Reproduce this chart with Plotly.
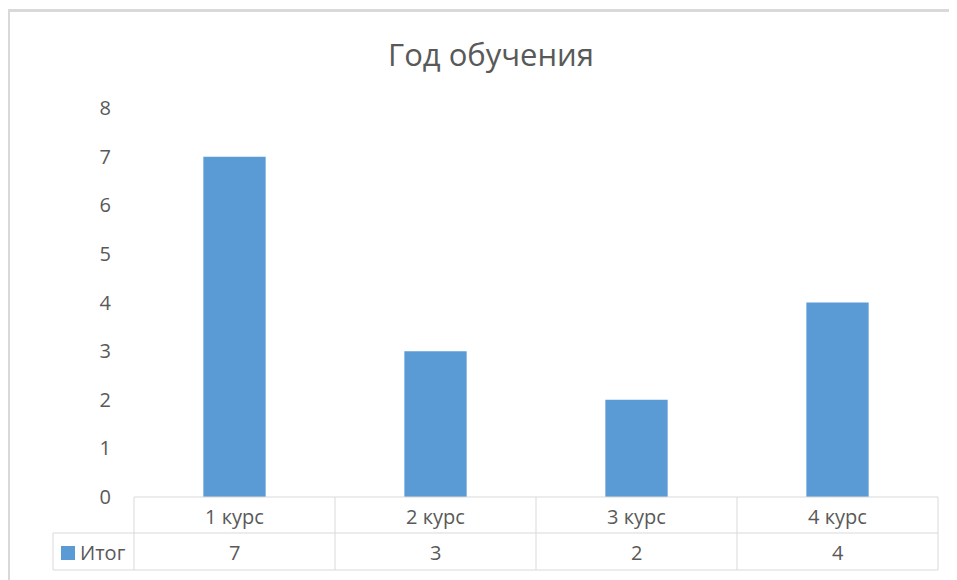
import plotly.graph_objects as go

categories = ["1 курс", "2 курс", "3 курс", "4 курс"]
values = [7, 3, 2, 4]
series_name = "Итог"
title_text = "Год обучения"
y_ticks = [0, 1, 2, 3, 4, 5, 6, 7, 8]

W, H = 957, 580
OFF = 8  # page body margin
L, R, T, B = 134, 938, 108, 497  # plot area in page px
pw, ph = R - L, B - T

def px(x):
    return (x - L) / pw

def py(y):
    return (B - y) / ph

bar_color = "#5b9bd5"
grid = "#d9d9d9"
txt = "#595959"
font = "Open Sans"

fig = go.Figure()
fig.add_trace(go.Bar(x=categories, y=values, name=series_name,
                     marker=dict(color=bar_color, line=dict(width=0)),
                     width=0.31, showlegend=False))

shapes = []
def line(x0, y0, x1, y1, color=grid, w=1):
    shapes.append(dict(type="line", xref="paper", yref="paper",
                       x0=px(x0), y0=py(y0), x1=px(x1), y1=py(y1),
                       line=dict(color=color, width=w)))

# table lines
line(L, B, R, B)
line(53, 533, R, 533)
line(53, 570, R, 570)
line(53, 533, 53, 570)
n = len(categories)
for i in range(n + 1):
    x = L + pw * i / n
    line(x, B, x, 570)

# outer chart border
shapes.append(dict(type="rect", xref="paper", yref="paper",
                   x0=px(8.5), y0=py(10.5), x1=px(W + 20), y1=py(H + 20),
                   line=dict(color="#d9d9d9", width=3), fillcolor="rgba(0,0,0,0)"))
# legend key
shapes.append(dict(type="rect", xref="paper", yref="paper",
                   x0=px(61), y0=py(546), x1=px(75), y1=py(560),
                   line=dict(width=0), fillcolor=bar_color))

fs = 20
annotations = []
for c, v in zip(categories, values):
    annotations.append(dict(x=c, y=py(516), xref="x", yref="paper", text=c,
                            showarrow=False, font=dict(family=font, size=fs, color=txt),
                            xanchor="center", yanchor="middle"))
    annotations.append(dict(x=c, y=py(552), xref="x", yref="paper", text=str(v),
                            showarrow=False, font=dict(family=font, size=fs, color=txt),
                            xanchor="center", yanchor="middle"))
annotations.append(dict(x=px(78), y=py(552), xref="paper", yref="paper", text=series_name,
                        showarrow=False, font=dict(family=font, size=fs, color=txt),
                        xanchor="left", yanchor="middle"))

fig.update_layout(
    width=W, height=H,
    margin=dict(l=L - OFF, r=W - R + OFF, t=T - OFF, b=H - B + OFF),
    paper_bgcolor="white", plot_bgcolor="white",
    title=dict(text=title_text, x=(491 - OFF) / W, xref="container", xanchor="center",
               y=1 - (55 - OFF) / H, yref="container", yanchor="middle",
               font=dict(family=font, size=31, color=txt)),
    xaxis=dict(showticklabels=False, showgrid=False, zeroline=False, showline=False,
               ticks="", range=[-0.5, n - 0.5]),
    yaxis=dict(range=[0, 8], tickvals=y_ticks, showgrid=False, zeroline=False,
               showline=False, ticks="", ticklabelstandoff=22,
               tickfont=dict(family=font, size=fs, color=txt)),
    shapes=shapes, annotations=annotations,
)

fig.write_html("out.html")
